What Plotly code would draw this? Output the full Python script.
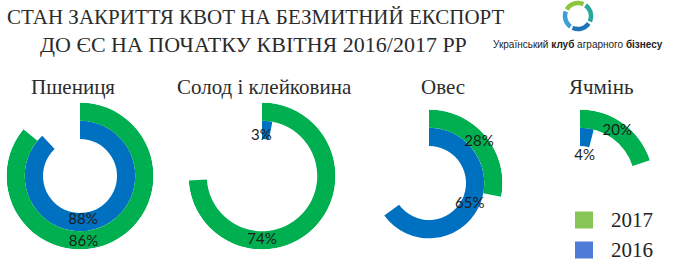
import plotly.graph_objects as go
import numpy as np

# ---------------- data ----------------
crops = ["Пшениця", "Солод і клейковина", "Овес", "Ячмінь"]
share_2017 = [86, 74, 28, 20]   # % of quota used, 2017 (outer ring)
share_2016 = [88, 3, 65, 4]     # % of quota used, 2016 (inner ring)
years = ["2017", "2016"]
title_lines = ["СТАН ЗАКРИТТЯ КВОТ НА БЕЗМИТНИЙ ЕКСПОРТ",
               "ДО ЄС НА ПОЧАТКУ КВІТНЯ 2016/2017 РР"]
logo_text = "Український <b>клуб</b> аграрного <b>бізнесу</b>"

# ---------------- layout constants ----------------
W, H = 676, 270
centers = [(80, 176), (262, 176), (429, 183), (580, 183)]
R_OUT = 73.5
R_HOLE = 37
unit = (R_OUT - R_HOLE) / 2.0
rmin = -R_HOLE / unit

GREEN = "#00B050"
BLUE = "#0070C0"
LEG_GREEN = "#88C557"
LEG_BLUE = "#4F7BD8"
SERIF = "Liberation Serif"

# label placement (radial units, degrees clockwise from top)
label_pos_2017 = [(1.6, 177), (1.5, 180), (1.5, 51), (1.45, 36)]
label_pos_2016 = [(0.4, 176), (0.15, 359), (0.5, 118), (-0.55, 10)]


def px(x):
    return x / W


def py(y):
    return 1 - y / H


fig = go.Figure()
layout_polars = {}
for i, crop in enumerate(crops):
    name = "polar" if i == 0 else f"polar{i + 1}"
    cx, cy = centers[i]
    layout_polars[name] = dict(
        domain=dict(x=[px(cx - R_OUT), px(cx + R_OUT)],
                    y=[py(cy + R_OUT), py(cy - R_OUT)]),
        bgcolor="rgba(0,0,0,0)",
        hole=0,
        radialaxis=dict(range=[rmin, 2], visible=False, showgrid=False),
        angularaxis=dict(direction="clockwise", rotation=90, visible=False,
                         showgrid=False, showline=False, showticklabels=False,
                         ticks=""),
    )
    # inner ring: 2016
    fig.add_trace(go.Barpolar(
        r=[1], base=[0], theta=[0], offset=[0], width=[share_2016[i] * 3.6],
        marker=dict(color=BLUE, line=dict(width=0)),
        subplot=name, showlegend=False, hoverinfo="skip"))
    # outer ring: 2017
    fig.add_trace(go.Barpolar(
        r=[1], base=[1], theta=[0], offset=[0], width=[share_2017[i] * 3.6],
        marker=dict(color=GREEN, line=dict(width=0)),
        subplot=name, showlegend=False, hoverinfo="skip"))
    # value labels
    for vals, pos in ((share_2016, label_pos_2016), (share_2017, label_pos_2017)):
        fig.add_trace(go.Scatterpolar(
            r=[pos[i][0]], theta=[pos[i][1]], mode="text",
            text=[f"{vals[i]}%"],
            textfont=dict(family="Lato", size=15, color="#1c1c1c"),
            subplot=name, showlegend=False, hoverinfo="skip"))

annotations = []
# title
annotations.append(dict(text=title_lines[0], x=px(256), y=py(17), xref="paper", yref="paper",
                        showarrow=False, xanchor="center", yanchor="middle",
                        font=dict(family=SERIF, size=21, color="#2b2b2b")))
annotations.append(dict(text=title_lines[1], x=px(254), y=py(45), xref="paper", yref="paper",
                        showarrow=False, xanchor="center", yanchor="middle",
                        font=dict(family=SERIF, size=22, color="#2b2b2b")))
# crop titles
crop_title_x = [73, 264, 443, 601]
for i, crop in enumerate(crops):
    annotations.append(dict(text=crop, x=px(crop_title_x[i]), y=py(87), xref="paper", yref="paper",
                            showarrow=False, xanchor="center", yanchor="middle",
                            font=dict(family=SERIF, size=21, color="#2b2b2b")))
# legend
leg_y = [220, 250]
leg_col = [LEG_GREEN, LEG_BLUE]
shapes = []
for j, yr in enumerate(years):
    shapes.append(dict(type="rect", xref="paper", yref="paper",
                       x0=px(575), x1=px(593), y0=py(leg_y[j] + 8.5), y1=py(leg_y[j] - 8.5),
                       fillcolor=leg_col[j], line=dict(width=0)))
    annotations.append(dict(text=yr, x=px(609), y=py(leg_y[j]), xref="paper", yref="paper",
                            showarrow=False, xanchor="left", yanchor="middle",
                            font=dict(family=SERIF, size=21, color="#222222")))

# logo: swirl of arcs + text
lcx, lcy, lr = 578, 16, 13
arc_specs = [(300, 25, "#8CC63F"), (35, 115, "#2AA79B"), (125, 205, "#1F73B7"), (215, 290, "#3E9FD8")]
for a0, a1, col in arc_specs:
    if a1 < a0:
        a1 += 360
    angs = np.radians(np.linspace(a0, a1, 16))
    xs = lcx + lr * np.sin(angs)
    ys = lcy - lr * np.cos(angs)
    path = "M " + " L ".join(f"{px(x):.5f},{py(y):.5f}" for x, y in zip(xs, ys))
    shapes.append(dict(type="path", xref="paper", yref="paper", path=path,
                       line=dict(color=col, width=4.5)))
annotations.append(dict(text=logo_text, x=px(578), y=py(44), xref="paper", yref="paper",
                        showarrow=False, xanchor="center", yanchor="middle",
                        font=dict(family="Liberation Sans", size=10, color="#222222")))

fig.update_layout(
    width=W, height=H,
    margin=dict(l=0, r=0, t=0, b=0),
    paper_bgcolor="white", plot_bgcolor="white",
    showlegend=False,
    annotations=annotations,
    shapes=shapes,
    **layout_polars,
)

fig.write_html("out.html")
